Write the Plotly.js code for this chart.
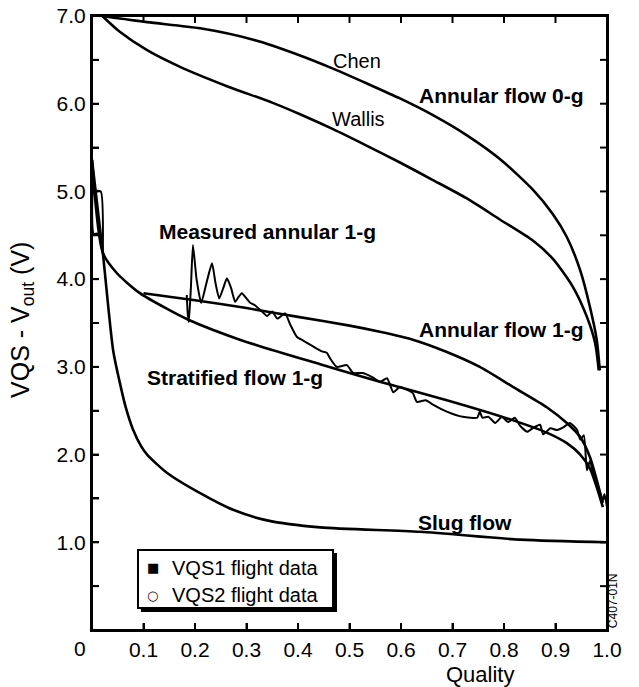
<!DOCTYPE html>
<html>
<head>
<meta charset="utf-8">
<script src="https://cdn.plot.ly/plotly-3.0.1.min.js"></script>
<style>
html,body{margin:0;padding:0;background:#fff;}
#chart{width:639px;height:687px;}
</style>
</head>
<body>
<div id="chart"></div>
<script>
// ---- Data ----
const chenQuality = [0.02, 0.107, 0.21, 0.313, 0.404, 0.468, 0.534, 0.598, 0.662, 0.728, 0.792, 0.856, 0.895, 0.922, 0.948, 0.967, 0.98, 0.986];
const chenV       = [7.0, 6.93, 6.86, 6.73, 6.55, 6.40, 6.23, 6.06, 5.87, 5.64, 5.37, 5.02, 4.74, 4.48, 4.10, 3.68, 3.31, 2.96];

const wallisQuality = [0.02, 0.054, 0.107, 0.171, 0.262, 0.351, 0.404, 0.468, 0.534, 0.598, 0.662, 0.728, 0.792, 0.856, 0.895, 0.934, 0.961, 0.977, 0.984];
const wallisV       = [7.0, 6.82, 6.61, 6.42, 6.20, 6.01, 5.88, 5.71, 5.52, 5.33, 5.13, 4.92, 4.68, 4.44, 4.23, 3.91, 3.57, 3.27, 2.96];

const annular1gQuality = [0.1, 0.2, 0.3, 0.4, 0.5, 0.559, 0.623, 0.689, 0.753, 0.818, 0.883, 0.922, 0.948, 0.967, 0.98, 0.992];
const annular1gV       = [3.84, 3.76, 3.67, 3.57, 3.47, 3.40, 3.31, 3.17, 3.00, 2.77, 2.54, 2.36, 2.20, 1.97, 1.71, 1.45];

const stratQuality = [0, 0.021, 0.048, 0.093, 0.146, 0.186, 0.287, 0.443, 0.559, 0.689, 0.818, 0.883, 0.922, 0.948, 0.967, 0.98, 0.992];
const stratV       = [5.36, 4.30, 4.07, 3.84, 3.66, 3.54, 3.31, 3.03, 2.83, 2.62, 2.39, 2.25, 2.13, 2.00, 1.84, 1.63, 1.40];

const slugQuality = [0, 0.021, 0.041, 0.054, 0.065, 0.08, 0.095, 0.107, 0.146, 0.21, 0.274, 0.34, 0.443, 0.637, 0.831, 1.0];
const slugV       = [5.36, 4.30, 3.19, 2.82, 2.55, 2.28, 2.10, 2.00, 1.79, 1.56, 1.37, 1.25, 1.17, 1.12, 1.03, 1.0];

const measuredQuality = [0.012, 0.003, 0.003, 0.017, 0.021, null,
  0.184, 0.186, 0.188, 0.192, 0.196, 0.203, 0.212, 0.222, 0.233, 0.240, 0.247, 0.255, 0.262, 0.270, 0.278, 0.285, 0.291, 0.300, 0.307, 0.317, 0.330, 0.340, 0.350, 0.360, 0.375, 0.385, 0.398, 0.410, 0.430, 0.445, 0.456,
  0.462, 0.475, 0.495, 0.507, 0.526, 0.545, 0.559, 0.573, 0.585, 0.598, 0.611, 0.623, 0.631, 0.648, 0.662, 0.689, 0.720, 0.748, 0.753, 0.758, 0.770, 0.783, 0.796, 0.808, 0.821, 0.831, 0.845, 0.858, 0.870, 0.876, 0.890, 0.903, 0.915, 0.928, 0.942, 0.948, 0.955, 0.961, 0.967, 0.973, 0.980, 0.986, 0.992, 0.995, 1.0];
const measuredV = [4.52, 4.52, 5.0, 5.0, 4.30, null,
  3.82, 3.60, 3.51, 3.90, 4.39, 4.00, 3.73, 3.95, 4.18, 3.95, 3.78, 3.90, 4.01, 3.90, 3.74, 3.80, 3.84, 3.78, 3.73, 3.70, 3.63, 3.58, 3.63, 3.55, 3.61, 3.48, 3.34, 3.30, 3.23, 3.18, 3.16,
  3.10, 3.00, 3.02, 2.93, 2.93, 2.88, 2.83, 2.87, 2.71, 2.77, 2.74, 2.70, 2.60, 2.62, 2.57, 2.49, 2.43, 2.42, 2.49, 2.42, 2.43, 2.36, 2.43, 2.37, 2.42, 2.33, 2.26, 2.31, 2.34, 2.23, 2.30, 2.28, 2.31, 2.36, 2.28, 2.17, 2.22, 1.82, 1.93, 1.79, 1.70, 1.56, 1.48, 1.55, 1.40];

const xTickVals = [0.1, 0.2, 0.3, 0.4, 0.5, 0.6, 0.7, 0.8, 0.9, 1.0];
const xTickText = ['0.1', '0.2', '0.3', '0.4', '0.5', '0.6', '0.7', '0.8', '0.9', '1.0'];
const yTickVals = [0.5, 1, 1.5, 2, 2.5, 3, 3.5, 4, 4.5, 5, 5.5, 6, 6.5, 7];
const yTickText = ['', '1.0', '', '2.0', '', '3.0', '', '4.0', '', '5.0', '', '6.0', '', '7.0'];

const legendNames = ['VQS1 flight data', 'VQS2 flight data'];
const legendSymbols = ['\u25A0', '\u25CB'];

// ---- Plot ----
const FONT = 'Liberation Sans, Arial, Helvetica, sans-serif';
const curveLine = {color: '#000', width: 2.6, shape: 'spline', smoothing: 0.7};

const traces = [
  {x: chenQuality, y: chenV, mode: 'lines', line: curveLine, hoverinfo: 'skip'},
  {x: wallisQuality, y: wallisV, mode: 'lines', line: curveLine, hoverinfo: 'skip'},
  {x: annular1gQuality, y: annular1gV, mode: 'lines', line: curveLine, hoverinfo: 'skip'},
  {x: stratQuality, y: stratV, mode: 'lines', line: curveLine, hoverinfo: 'skip'},
  {x: slugQuality, y: slugV, mode: 'lines', line: curveLine, hoverinfo: 'skip'},
  {x: measuredQuality, y: measuredV, mode: 'lines', line: {color: '#000', width: 2, shape: 'spline', smoothing: 0.5},
   connectgaps: false, hoverinfo: 'skip'}
];

function lbl(text, x, y, size, bold) {
  return {text: bold ? '<b>' + text + '</b>' : text, x: x, y: y, xref: 'x', yref: 'y',
          showarrow: false, font: {family: FONT, size: size, color: '#000'}, xanchor: 'center', yanchor: 'middle'};
}
function ptxt(text, x, y, size, xanchor, extra) {
  return Object.assign({text: text, x: x, y: y, xref: 'paper', yref: 'paper', showarrow: false,
          font: {family: FONT, size: size, color: '#000'}, xanchor: xanchor, yanchor: 'middle'}, extra || {});
}
const SYMFONT = {family: 'DejaVu Sans, Liberation Sans, sans-serif', size: 13, color: '#000'};

const annotations = [
  lbl('Chen', 0.515, 6.49, 20, false),
  lbl('Annular flow 0-g', 0.796, 6.09, 21, true),
  lbl('Wallis', 0.517, 5.83, 20, false),
  lbl('Measured annular 1-g', 0.34, 4.54, 21, true),
  lbl('Annular flow 1-g', 0.796, 3.43, 21, true),
  lbl('Stratified flow 1-g', 0.277, 2.88, 21, true),
  lbl('Slug flow', 0.724, 1.22, 21, true),
  ptxt('C407-01N', 1.0117, 0.047, 12, 'center', {textangle: -90}),
  ptxt('0', -0.0233, 0, 21, 'center', {yanchor: 'top', yshift: -5}),
  ptxt('Quality', 0.753, 0, 22, 'center', {yanchor: 'top', yshift: -30}),
  ptxt('VQS - V<sub>out</sub> (V)', -0.136, 0.505, 25, 'center', {textangle: -90}),
  // legend
  ptxt(legendSymbols[0], 0.1184, 0.101, 13, 'center', {font: SYMFONT}),
  ptxt(legendSymbols[1], 0.1184, 0.057, 13, 'center', {font: SYMFONT}),
  ptxt(legendNames[0], 0.1515, 0.101, 20, 'left'),
  ptxt(legendNames[1], 0.1515, 0.057, 20, 'left')
];

const axisCommon = {
  showline: true, linecolor: '#000', linewidth: 2, mirror: true,
  ticks: 'inside', ticklen: 7, tickwidth: 2, tickcolor: '#000',
  showgrid: false, zeroline: false, fixedrange: true, layer: 'above traces',
  tickfont: {family: FONT, size: 21, color: '#000'}
};

// inward tick marks on all four sides, placed through the axis scales
const TICK = 7;
const tickShapes = [];
xTickVals.forEach(function (v) {
  tickShapes.push({type: 'line', xref: 'x', yref: 'paper', ysizemode: 'pixel', yanchor: 0,
                   x0: v, x1: v, y0: 0, y1: TICK, line: {color: '#000', width: 2}, layer: 'above'});
  tickShapes.push({type: 'line', xref: 'x', yref: 'paper', ysizemode: 'pixel', yanchor: 1,
                   x0: v, x1: v, y0: 0, y1: -TICK, line: {color: '#000', width: 2}, layer: 'above'});
});
yTickVals.forEach(function (v) {
  tickShapes.push({type: 'line', xref: 'paper', yref: 'y', xsizemode: 'pixel', xanchor: 0,
                   x0: 0, x1: TICK, y0: v, y1: v, line: {color: '#000', width: 2}, layer: 'above'});
  tickShapes.push({type: 'line', xref: 'paper', yref: 'y', xsizemode: 'pixel', xanchor: 1,
                   x0: 0, x1: -TICK, y0: v, y1: v, line: {color: '#000', width: 2}, layer: 'above'});
});

const layout = {
  width: 639, height: 687,
  margin: {l: 92, r: 32, t: 16, b: 57},
  paper_bgcolor: '#fff', plot_bgcolor: '#fff',
  font: {family: FONT, color: '#000'},
  showlegend: false,
  xaxis: Object.assign({}, axisCommon, {range: [0, 1], tickmode: 'array', tickvals: xTickVals, ticktext: xTickText}),
  yaxis: Object.assign({}, axisCommon, {range: [0, 7], tickmode: 'array', tickvals: yTickVals, ticktext: yTickText}),
  shapes: [
    // plot frame
    {type: 'rect', xref: 'paper', yref: 'paper', x0: 0, x1: 1, y0: 0, y1: 1,
     line: {color: '#000', width: 2}, fillcolor: 'rgba(0,0,0,0)', layer: 'above'}
  ].concat(tickShapes).concat([
    // legend shadow and box
    {type: 'rect', xref: 'paper', yref: 'paper', x0: 0.0951, x1: 0.4757, y0: 0.0293, y1: 0.1254,
     fillcolor: '#000', line: {width: 0}, layer: 'above'},
    {type: 'rect', xref: 'paper', yref: 'paper', x0: 0.0893, x1: 0.468, y0: 0.0358, y1: 0.1303,
     fillcolor: '#fff', line: {color: '#000', width: 2}, layer: 'above'}
  ]),
  annotations: annotations
};

Plotly.newPlot('chart', traces, layout, {staticPlot: true, displayModeBar: false});
</script>
</body>
</html>
